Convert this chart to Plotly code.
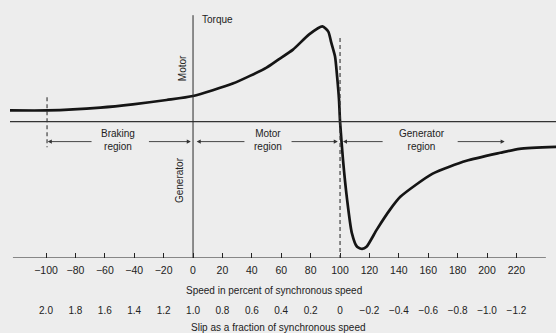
import plotly.graph_objects as go

# Induction machine torque-speed characteristic
speed_pct = [-124.5, -99, -63, -41, -18, 0, 27, 50, 58, 68, 79, 88, 92, 94, 96.6,
             98, 99.3, 100, 102, 104.8, 108, 111.6, 115, 118, 125, 134, 141,
             163, 186, 209, 222, 247]
torque = [28, 28, 35, 43, 54, 64, 95, 135, 155, 180, 218, 238, 225, 198, 163,
          113, 55, 0, -95, -195, -278, -313, -318, -313, -270, -220, -188,
          -130, -98, -78, -68, -63]

speed_ticks = [-100, -80, -60, -40, -20, 0, 20, 40, 60, 80, 100, 120, 140, 160, 180, 200, 220]
speed_labels = ["\u2212100", "\u221280", "\u221260", "\u221240", "\u221220", "0", "20", "40",
                "60", "80", "100", "120", "140", "160", "180", "200", "220"]
slip_ticks = [2.0, 1.8, 1.6, 1.4, 1.2, 1.0, 0.8, 0.6, 0.4, 0.2, 0.0,
              -0.2, -0.4, -0.6, -0.8, -1.0, -1.2]
slip_labels = ["2.0", "1.8", "1.6", "1.4", "1.2", "1.0", "0.8", "0.6", "0.4", "0.2", "0",
               "\u22120.2", "\u22120.4", "\u22120.6", "\u22120.8", "\u22121.0", "\u22121.2"]

X_RANGE = [-131.3, 246.9]
Y_RANGE = [-341, 304]
INK = "#222222"
FONT = "Liberation Sans, Arial, sans-serif"

fig = go.Figure()
fig.add_trace(go.Scatter(
    x=speed_pct, y=torque, mode="lines",
    line=dict(color="#151515", width=2.7, shape="spline", smoothing=0.6),
    hoverinfo="skip", showlegend=False,
))
# invisible trace that carries the slip axis
fig.add_trace(go.Scatter(x=[slip_ticks[0]], y=[0], xaxis="x2", mode="markers",
                         marker=dict(opacity=0), hoverinfo="skip", showlegend=False))

shapes = [
    # speed axis
    dict(type="line", xref="x", yref="y", x0=-122.5, x1=240, y0=Y_RANGE[0], y1=Y_RANGE[0],
         line=dict(color=INK, width=1.2)),
    # zero-torque line
    dict(type="line", xref="x", yref="y", x0=-124.5, x1=250, y0=0, y1=0,
         line=dict(color="#333333", width=1.1)),
    # torque axis
    dict(type="line", xref="x", yref="y", x0=0, x1=0, y0=266, y1=Y_RANGE[0],
         line=dict(color="#2a2a2a", width=1)),
    # synchronous speed
    dict(type="line", xref="x", yref="y", x0=100, x1=100, y0=209, y1=Y_RANGE[0],
         line=dict(color="#333333", width=1.1, dash="4px,3px")),
    # braking region boundary
    dict(type="line", xref="x", yref="y", x0=-99.3, x1=-99.3, y0=61, y1=-64,
         line=dict(color="#333333", width=1.1, dash="4px,3px")),
]

annotations = []
text_font = dict(family=FONT, size=10, color=INK)

def region_arrow(tail, head):
    annotations.append(dict(
        x=head, y=-50, ax=tail, ay=-50, xref="x", yref="y", axref="x", ayref="y",
        text="", showarrow=True, arrowhead=2, arrowsize=0.9, arrowwidth=0.9,
        arrowcolor="#333333",
    ))

for tail, head in [(-68, -98.8), (-31, -1.5), (36, 2.5), (66, 98.5), (130, 102), (179, 212)]:
    region_arrow(tail, head)

for xc, label in [(-51, "Braking<br>region"), (51, "Motor<br>region"), (156, "Generator<br>region")]:
    annotations.append(dict(x=xc, y=-47, xref="x", yref="y", text=label, showarrow=False,
                            font=text_font, align="center", yanchor="middle"))

annotations += [
    dict(x=5, y=255, xref="x", yref="y", text="Torque", showarrow=False,
         xanchor="left", yanchor="middle", font=text_font),
    dict(x=-7, y=133, xref="x", yref="y", text="Motor", showarrow=False,
         textangle=-90, yanchor="middle", font=text_font),
    dict(x=-9.5, y=-146, xref="x", yref="y", text="Generator", showarrow=False,
         textangle=-90, yanchor="middle", font=text_font),
    dict(x=0.493, y=(333 - 290) / 333, xref="paper", yref="paper", yanchor="middle",
         text="Speed in percent of synchronous speed", showarrow=False, font=text_font),
    dict(x=0.5, y=(333 - 327) / 333, xref="paper", yref="paper", yanchor="middle",
         text="Slip as a fraction of synchronous speed", showarrow=False, font=text_font),
]

fig.update_layout(
    width=556, height=333,
    margin=dict(l=0, r=0, t=0, b=0),
    paper_bgcolor="#ededed", plot_bgcolor="rgba(0,0,0,0)",
    shapes=shapes, annotations=annotations,
    xaxis=dict(range=X_RANGE, tickvals=speed_ticks, ticktext=speed_labels,
               ticks="inside", ticklen=5, tickwidth=1, tickcolor=INK,
               showline=False, showgrid=False, zeroline=False,
               tickfont=dict(family=FONT, size=10.5, color=INK),
               ticklabelstandoff=4, fixedrange=True),
    xaxis2=dict(overlaying="x", anchor="free", position=(333 - 303) / 333, side="bottom",
                range=[1 - X_RANGE[0] / 100, 1 - X_RANGE[1] / 100],
                tickvals=slip_ticks, ticktext=slip_labels, ticks="",
                showline=False, showgrid=False, zeroline=False,
                tickfont=dict(family=FONT, size=10, color=INK)),
    yaxis=dict(range=Y_RANGE, domain=[(333 - 258) / 333, 1], visible=False,
               showgrid=False, zeroline=False),
)

fig.write_html("out.html")
